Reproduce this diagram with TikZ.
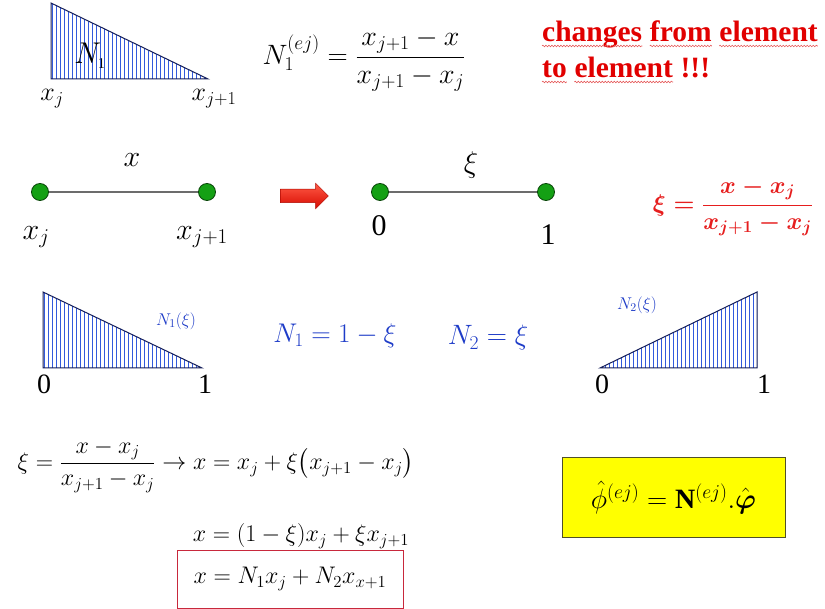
\documentclass[tikz,border=0pt]{standalone}
\usepackage{fix-cm}
\usepackage{amsmath}
\usepackage{fontspec}
\setmainfont{Liberation Serif}
\usetikzlibrary{shapes.arrows,decorations.pathmorphing}
\newcommand\fsz[1]{\fontsize{#1}{#1}\selectfont}
\definecolor{redtxt}{RGB}{225,0,0}
\definecolor{redform}{RGB}{230,30,30}
\definecolor{bluetxt}{RGB}{30,60,200}
\definecolor{hatchblue}{RGB}{50,90,220}
\definecolor{navy}{RGB}{20,30,90}
\definecolor{dotgreen}{RGB}{20,160,20}
\definecolor{dotedge}{RGB}{10,70,10}
\definecolor{arrowred}{RGB}{215,10,0}
\definecolor{arrowlight}{RGB}{255,90,70}
\definecolor{boxred}{RGB}{200,40,60}
\definecolor{boxedge}{RGB}{80,80,40}
\definecolor{ylw}{RGB}{255,255,0}
\definecolor{squigc}{RGB}{230,90,90}
\begin{document}
\begin{tikzpicture}[x=1pt,y=-1pt,
  hatch/.style={draw=hatchblue,line width=0.9pt},
  tri/.style={draw=navy,line width=1pt},
  dot/.style={circle,fill=dotgreen,draw=dotedge,line width=0.8pt,minimum size=17pt,inner sep=0pt},
  seg/.style={draw=gray!85!black,line width=1.6pt},
  lbl/.style={inner sep=0pt},
  word/.style={inner sep=0pt,anchor=base west,text=redtxt,font=\fsz{29.5}\bfseries},
  squig/.style={draw=squigc,line width=0.6pt,decorate,decoration={snake,amplitude=0.8pt,segment length=3pt}},
]
\useasboundingbox[fill=white] (0,0) rectangle (825,609);

% ---- top triangle
\begin{scope}
\clip (51,3) -- (51,79) -- (208,79) -- cycle;
\foreach \i in {52,56,...,208} \draw[hatch] (\i,0) -- (\i,80);
\end{scope}
\draw[tri] (51,3) -- (51,79) -- (208,79) -- cycle;
\node[lbl] (N1top) at (90,56) {\fsz{30}$N_{\scriptscriptstyle 1}$};
\node[lbl] (xjtop) at (52,99) {\fsz{26}$x_j$};
\node[lbl] (xj1top) at (214,99) {\fsz{26}$x_{j+1}$};
\node[lbl] (Nej) at (364,60) {\fsz{28}$N_1^{(ej)}=\dfrac{x_{j+1}-x}{x_{j+1}-x_j}$};

% red remark, word by word
\node[word] (w1) at (542,42) {changes};
\node[word] (w2) at ([xshift=7.4pt]w1.base east) {from};
\node[word] (w3) at ([xshift=7.4pt]w2.base east) {element};
\node[word] (w4) at (542,78) {to};
\node[word] (w5) at ([xshift=7.4pt]w4.base east) {element};
\node[word] (w6) at ([xshift=7.4pt]w5.base east) {!!!};
\foreach \w in {w1,w2,w3,w4,w5}
  \draw[squig] ([yshift=-4pt]\w.base west) -- ([yshift=-4pt]\w.base east);

% ---- row 2
\node[dot] (d1) at (40,192) {};
\node[dot] (d2) at (207,192) {};
\draw[seg] (d1) -- (d2);
\node[lbl] (xlab) at (132,160) {\fsz{30}$x$};
\node[lbl] (xj) at (36,237) {\fsz{30}$x_j$};
\node[lbl] (xj1) at (202,237) {\fsz{30}$x_{j+1}$};
\node[single arrow, inner xsep=0pt, inner ysep=6.5pt, minimum height=48pt, minimum width=25pt,
      single arrow head extend=6pt, top color=arrowlight, bottom color=arrowred,
      draw=arrowred!80!black, line width=0.5pt] (arr) at (301,196) {};
\node[dot] (d3) at (380,192) {};
\node[dot] (d4) at (546,192) {};
\draw[seg] (d3) -- (d4);
\node[lbl] (xilab) at (471,165) {\fsz{30}$\xi$};
\node[lbl] (zero2) at (379,226) {\fsz{30}0};
\node[lbl] (one2) at (548,235) {\fsz{30}1};
\node[lbl,text=redform] (xidef) at (733,207) {\fsz{24}$\boldsymbol{\xi=\dfrac{x-x_j}{x_{j+1}-x_j}}$};

% ---- row 3 left triangle
\begin{scope}
\clip (43,292) -- (43,368) -- (202,368) -- cycle;
\foreach \i in {44,48,...,202} \draw[hatch] (\i,290) -- (\i,370);
\end{scope}
\draw[tri] (43,292) -- (43,368) -- (202,368) -- cycle;
\node[lbl,text=bluetxt] (N1xi) at (176,321) {\fsz{17}$N_1(\xi)$};
\node[lbl] (zero3a) at (44,384) {\fsz{28}0};
\node[lbl] (one3a) at (205,384) {\fsz{28}1};
\node[lbl,text=bluetxt] (N1eq) at (335,336) {\fsz{27}$N_1=1-\xi$};
\node[lbl,text=bluetxt] (N2eq) at (488,338) {\fsz{28}$N_2=\xi$};

% ---- row 3 right triangle
\begin{scope}
\clip (600,368) -- (757,292) -- (757,368) -- cycle;
\foreach \i in {601,605,...,757} \draw[hatch] (\i,290) -- (\i,370);
\end{scope}
\draw[tri] (600,368) -- (757,292) -- (757,368) -- cycle;
\node[lbl,text=bluetxt] (N2xi) at (637,305) {\fsz{17}$N_2(\xi)$};
\node[lbl] (zero3b) at (602,384) {\fsz{28}0};
\node[lbl] (one3b) at (764,384) {\fsz{28}1};

% ---- row 4
\node[lbl] (eq1) at (216,466) {\fsz{24}$\xi=\dfrac{x-x_j}{x_{j+1}-x_j}\rightarrow x=x_j+\xi\bigl(x_{j+1}-x_j\bigr)$};
\node[lbl] (eq2) at (301,536) {\fsz{24}$x=(1-\xi)x_j+\xi x_{j+1}$};
\node[draw=boxred, line width=1pt, minimum width=226pt, minimum height=58pt, inner sep=0pt] (rbox) at (290,579)
  {\fsz{24}$x=N_1x_j+N_2x_{x+1}$};
\node[draw=boxedge, fill=ylw, line width=1pt, minimum width=223pt, minimum height=79pt, inner sep=0pt] (ybox) at (673.5,497.5)
  {\fsz{28}$\hat{\phi}^{(ej)}=\mathbf{N}^{(ej)}.\hat{\boldsymbol{\varphi}}$};
\end{tikzpicture}
\end{document}
